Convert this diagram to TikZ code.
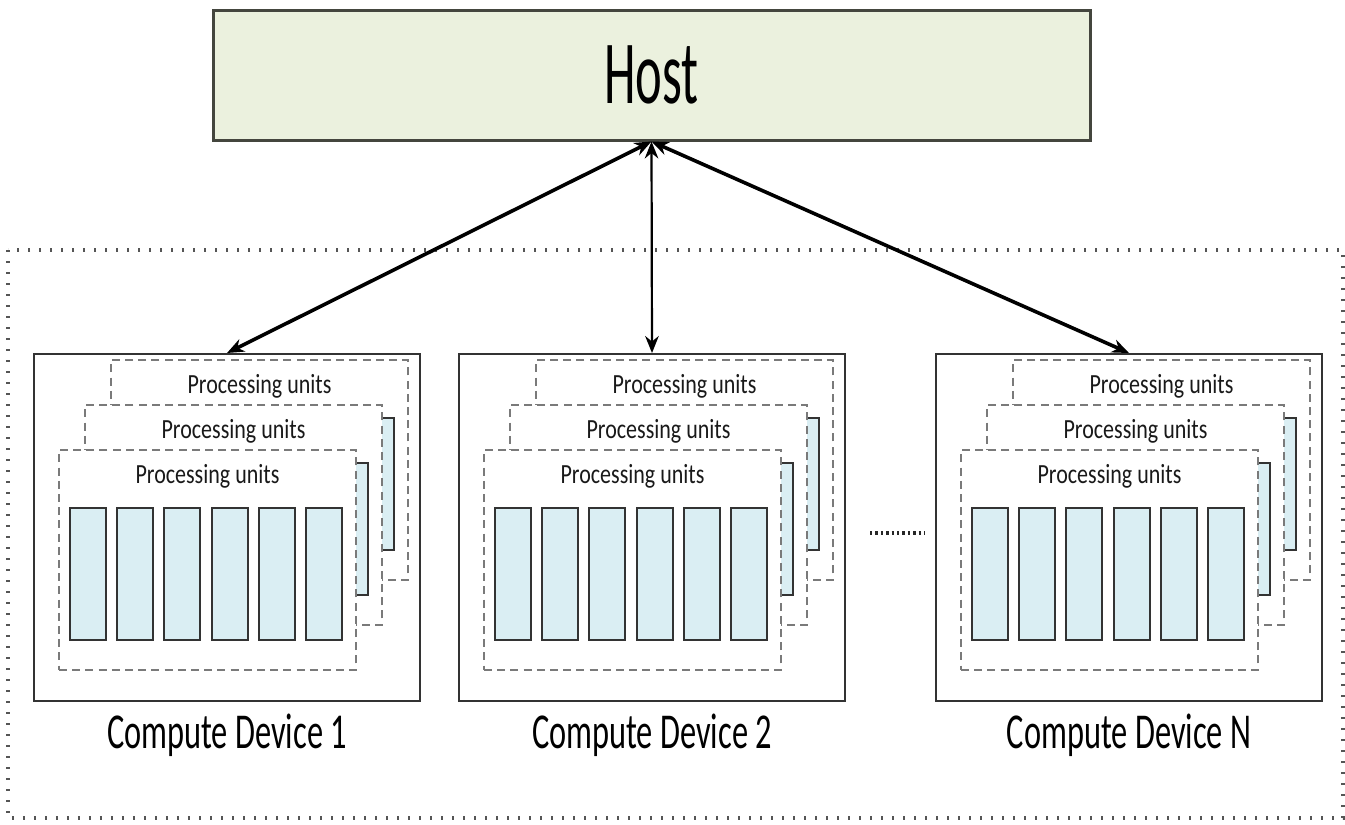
\documentclass[tikz,border=0pt]{standalone}
\usepackage{fontspec}
\setmainfont{Carlito}
\usetikzlibrary{arrows.meta}

\definecolor{hostfill}{HTML}{EBF1DE}
\definecolor{hostedge}{HTML}{44463E}
\definecolor{barfill}{HTML}{DAEEF3}
\definecolor{dashgray}{HTML}{7A7A7A}
\definecolor{edge}{HTML}{333333}
\definecolor{framegray}{HTML}{555555}

\tikzset{
  hostbox/.style={draw=hostedge, line width=1.5pt, fill=hostfill,
    minimum width=438.5pt, minimum height=65pt, inner sep=0pt,
    font=\fontsize{25.3}{30}\selectfont},
  devbox/.style={draw=edge, line width=1pt, fill=white,
    minimum width=193pt, minimum height=173.5pt, inner sep=0pt},
  pubox/.style={draw=dashgray, line width=1.2pt, dash pattern=on 4pt off 2.6pt,
    fill=white, minimum width=148.5pt, minimum height=110pt, inner sep=0pt},
  unitbar/.style={draw=edge, fill=barfill, line width=1pt,
    minimum width=18pt, minimum height=66pt, inner sep=0pt},
  putext/.style={anchor=base, inner sep=0pt, text=black!90,
    font=\fontsize{11}{13}\selectfont},
  devlabel/.style={anchor=base, inner sep=0pt, text=black,
    font=\fontsize{16.2}{19}\selectfont},
  link/.style={{Stealth[length=8.5pt,width=6.8pt]}-{Stealth[length=8.5pt,width=6.8pt]},
    line width=1.8pt, black},
  thinlink/.style={link, line width=1.1pt},
  frame/.style={draw=framegray, line width=2pt, dash pattern=on 0.8pt off 4.7pt},
  ellipsisdots/.style={draw=black!85, line width=1.8pt, dash pattern=on 1.2pt off 1.5pt}
}

% Three stacked layers of processing units inside a compute device.
% #1 = name prefix, #2 = left edge of the device, #3 = top edge of the device
\newcommand\pustack[3]{%
  \foreach \k in {2,1,0}{%
    \pgfmathsetmacro\bx{#2+25+26*\k}%
    \pgfmathsetmacro\by{#3+96-45*\k}%
    \node[pubox] (#1-layer\k) at (\bx+148.5,\by+110) {};
    \node[putext] (#1-title\k) at (\bx+148.5,\by+33)
      {\scalebox{1}[1.26]{Processing units}};
    \foreach \i in {0,...,5}{%
      \node[unitbar] (#1-unit\k\i) at (\bx+29+47.2*\i,\by+124) {};
    }
  }%
}

\begin{document}
\begin{tikzpicture}[x=0.5pt, y=-0.5pt]
  \useasboundingbox (0,0) rectangle (1345,825);

  % system boundary
  \draw[frame] (8,250) rectangle (1343,818);

  % host
  \node[hostbox] (host) at (651.5,75) {\scalebox{1}[1.78]{Host}};

  % compute devices
  \node[devbox] (dev1) at (227,527.5) {};
  \node[devbox] (dev2) at (652,527.5) {};
  \node[devbox] (devN) at (1129,527.5) {};

  \pustack{d1}{34}{354}
  \pustack{d2}{459}{354}
  \pustack{dN}{936}{354}

  \node[devlabel] (lab1) at (227,748) {\scalebox{1}[1.55]{Compute Device 1}};
  \node[devlabel] (lab2) at (652,748) {\scalebox{1}[1.55]{Compute Device 2}};
  \node[devlabel] (labN) at (1129,748) {\scalebox{1}[1.55]{Compute Device N}};

  % more devices in between
  \draw[ellipsisdots] (870,533) -- (925,533);

  % host <-> device links
  \draw[link] (host.south) -- (dev1.north);
  \draw[thinlink] (host.south) -- (dev2.north);
  \draw[link] (host.south) -- (devN.north);
\end{tikzpicture}
\end{document}
